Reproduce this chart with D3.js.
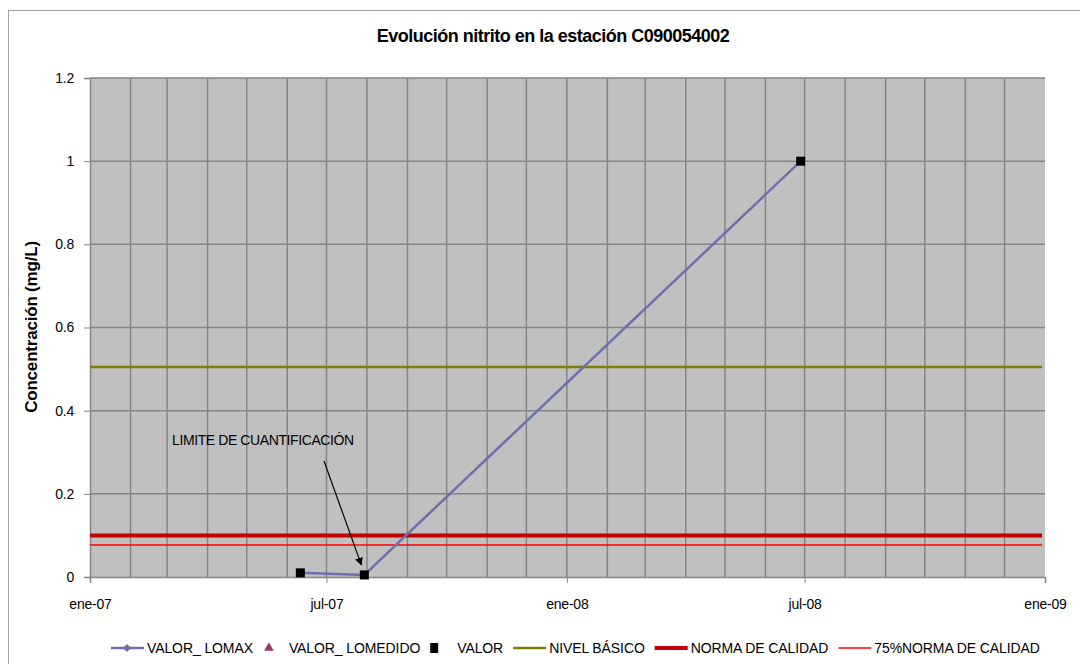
<!DOCTYPE html>
<html>
<head>
<meta charset="utf-8">
<script src="https://cdn.jsdelivr.net/npm/d3@7"></script>
<style>
  body { margin: 0; background: #fff; }
  svg text { font-family: "Liberation Sans", Arial, sans-serif; fill: #000; }
</style>
</head>
<body>
<svg id="fig" width="1080" height="664"></svg>
<script>
// data
const title = "Evolución nitrito en la estación C090054002";
const yTitle = "Concentración (mg/L)";
const dates = ["2007-06-11", "2007-07-30", "2008-06-28"];
const valorLomax = [0.01, 0.005, 1.0];
const valor = [0.01, 0.005, 1.0];
const nivelBasico = 0.505;
const normaCalidad = 0.1;
const norma75 = 0.077;
const xTicks = ["2007-01-01", "2007-07-01", "2008-01-01", "2008-07-01", "2009-01-01"];
const yTicks = [0, 0.2, 0.4, 0.6, 0.8, 1, 1.2];
const monthNames = ["ene", "feb", "mar", "abr", "may", "jun", "jul", "ago", "sep", "oct", "nov", "dic"];
const annotation = "LIMITE DE CUANTIFICACIÓN";
const legendNames = ["VALOR_ LOMAX", "VALOR_ LOMEDIDO", "VALOR", "NIVEL BÁSICO", "NORMA DE CALIDAD", "75%NORMA DE CALIDAD"];

const parse = d3.utcParse("%Y-%m-%d");
const svg = d3.select("#fig");

// chart border
svg.append("rect").attr("x", 8.5).attr("y", 10.5).attr("width", 1090).attr("height", 670)
  .attr("fill", "#fff").attr("stroke", "#a0a0a0");

const m = {left: 90, top: 78, right: 1045, bottom: 577};
const x = d3.scaleUtc().domain([parse("2007-01-01"), parse("2009-01-01")]).range([m.left, m.right]);
const y = d3.scaleLinear().domain([0, 1.2]).range([m.bottom, m.top]);

// plot area
svg.append("rect").attr("x", m.left).attr("y", m.top)
  .attr("width", m.right - m.left).attr("height", m.bottom - m.top).attr("fill", "#c0c0c0");

// grid: monthly vertical, 0.2 horizontal
const months = d3.utcMonth.range(parse("2007-02-01"), parse("2009-01-01"));
svg.append("g").selectAll("line").data(months).join("line")
  .attr("x1", d => x(d)).attr("x2", d => x(d)).attr("y1", m.top).attr("y2", m.bottom)
  .attr("stroke", "#858585").attr("stroke-width", 1.5);
svg.append("g").selectAll("line").data(yTicks.slice(1)).join("line")
  .attr("x1", m.left).attr("x2", m.right).attr("y1", d => y(d)).attr("y2", d => y(d))
  .attr("stroke", "#858585").attr("stroke-width", 1.5);

// axes
const yAxis = svg.append("g").attr("transform", `translate(${m.left},0)`)
  .call(d3.axisLeft(y).tickValues(yTicks).tickSize(6).tickPadding(10).tickFormat(d => String(d)));
const xAxis = svg.append("g").attr("transform", `translate(0,${m.bottom})`)
  .call(d3.axisBottom(x).tickValues(xTicks.map(parse)).tickSize(6).tickPadding(16)
    .tickFormat(d => monthNames[d.getUTCMonth()] + "-" + String(d.getUTCFullYear()).slice(2)));
[xAxis, yAxis].forEach(a => {
  a.select(".domain").attr("stroke", "#858585").attr("stroke-width", 1.5);
  a.selectAll(".tick line").attr("stroke", "#858585");
  a.selectAll("text").attr("font-size", 14).attr("font-family", "Liberation Sans, Arial, sans-serif")
    .attr("letter-spacing", -0.2);
});

// horizontal reference lines
svg.append("line").attr("x1", m.left).attr("x2", m.right - 3).attr("y1", y(nivelBasico)).attr("y2", y(nivelBasico))
  .attr("stroke", "#808000").attr("stroke-width", 2.5);
svg.append("line").attr("x1", m.left).attr("x2", m.right - 3).attr("y1", y(normaCalidad)).attr("y2", y(normaCalidad))
  .attr("stroke", "#c00000").attr("stroke-width", 4);
svg.append("line").attr("x1", m.left).attr("x2", m.right - 3).attr("y1", y(norma75)).attr("y2", y(norma75))
  .attr("stroke", "#ff0000").attr("stroke-width", 1.5);

// series
const pts = dates.map((d, i) => ({date: parse(d), lomax: valorLomax[i], valor: valor[i]}));
svg.append("path").datum(pts)
  .attr("d", d3.line().x(d => x(d.date)).y(d => y(d.lomax)))
  .attr("fill", "none").attr("stroke", "#6f6fab").attr("stroke-width", 2.5);
svg.append("g").selectAll("path").data(pts).join("path")
  .attr("d", d3.symbol(d3.symbolDiamond2, 40))
  .attr("transform", d => `translate(${x(d.date)},${y(d.lomax)})`).attr("fill", "#6f6fab");
svg.append("g").selectAll("rect").data(pts).join("rect")
  .attr("x", d => x(d.date) - 4.5).attr("y", d => y(d.valor) - 4.5)
  .attr("width", 9).attr("height", 9).attr("fill", "#000");

// annotation
svg.append("text").attr("x", 172).attr("y", 445).attr("font-size", 14).attr("letter-spacing", -0.4)
  .text(annotation);
svg.append("defs").append("marker").attr("id", "arr").attr("viewBox", "0 0 10 10")
  .attr("refX", 9).attr("refY", 5).attr("markerWidth", 8).attr("markerHeight", 8)
  .attr("markerUnits", "userSpaceOnUse").attr("orient", "auto")
  .append("path").attr("d", "M0,0L10,5L0,10Z").attr("fill", "#000");
const last = pts[1];
svg.append("line").attr("x1", 324).attr("y1", 461)
  .attr("x2", x(last.date) - 3).attr("y2", y(last.valor) - 10)
  .attr("stroke", "#000").attr("stroke-width", 1.2).attr("marker-end", "url(#arr)");

// titles
svg.append("text").attr("x", 553).attr("y", 42).attr("text-anchor", "middle")
  .attr("font-size", 18).attr("font-weight", "bold").attr("letter-spacing", -0.5).text(title);
svg.append("text").attr("transform", "translate(37,327) rotate(-90)").attr("text-anchor", "middle")
  .attr("font-size", 17).attr("font-weight", "bold").attr("letter-spacing", -0.2).text(yTitle);

// legend
const lg = svg.append("g").attr("transform", "translate(111,648)");
let lx = 0;
const gap = 10;
legendNames.forEach((name, i) => {
  const g = lg.append("g").attr("transform", `translate(${lx},0)`);
  let w = 0;
  if (i === 0) {
    g.append("line").attr("x1", 0).attr("x2", 33).attr("stroke", "#6f6fab").attr("stroke-width", 2.5);
    g.append("path").attr("d", d3.symbol(d3.symbolDiamond2, 40)).attr("transform", "translate(16,0)").attr("fill", "#6f6fab");
    w = 36;
  } else if (i === 1) {
    g.append("path").attr("d", d3.symbol(d3.symbolTriangle, 40)).attr("transform", "translate(6,0)").attr("fill", "#993366");
    w = 26;
  } else if (i === 2) {
    g.append("rect").attr("x", 0).attr("y", -5).attr("width", 8).attr("height", 10).attr("fill", "#000");
    w = 27;
  } else {
    const col = ["#808000", "#c00000", "#ff0000"][i - 3];
    const sw = [2.5, 4, 1.5][i - 3];
    g.append("line").attr("x1", 0).attr("x2", 33).attr("stroke", col).attr("stroke-width", sw);
    w = 36;
  }
  const t = g.append("text").attr("x", w).attr("y", 5).attr("font-size", 14).attr("letter-spacing", -0.1).text(name);
  lx += w + t.node().getComputedTextLength() + gap;
});
</script>
</body>
</html>
